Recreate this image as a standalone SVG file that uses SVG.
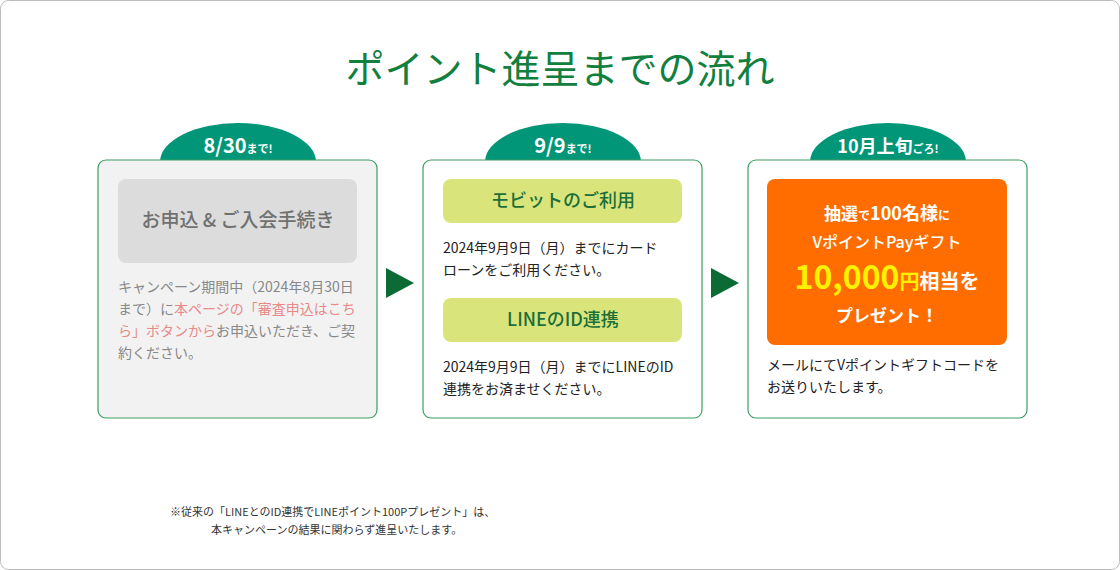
<svg xmlns="http://www.w3.org/2000/svg" width="1120" height="570" viewBox="0 0 1120 570">
<style>
text{font-family:"Noto Sans CJK JP","Noto Sans",sans-serif}
.card{stroke:#3d9e62;stroke-width:1.2}
.tab{fill:#009677}
.tt{fill:#fff;font-weight:bold;text-anchor:middle}
.body{font-size:14px;fill:#222}
.pill{fill:#d9e57a}
.pt{font-size:18px;fill:#1c6e3a;text-anchor:middle;font-weight:500}
.arr{fill:#0c6b35}
.ot{fill:#fff;font-weight:bold;text-anchor:middle}
</style>
<rect x="0.5" y="0.5" width="1119" height="569" rx="8" fill="#fff" stroke="#bdbdbd"/>
<text x="560" y="83" font-size="39" fill="#11803f" text-anchor="middle">ポイント進呈までの流れ</text>
<g id="connectors">
<polygon class="arr" points="386,268 414,283 386,298"/>
<polygon class="arr" points="711,268 739,283 711,298"/>
</g>
<g id="step1">
<ellipse class="tab" cx="238" cy="162" rx="78" ry="39"/>
<rect class="card" x="98" y="160" width="279" height="258" rx="8" fill="#f2f2f2"/>
<text class="tt" x="238" y="153"><tspan font-size="20">8/30</tspan><tspan font-size="11">まで!</tspan></text>
<rect x="118" y="179" width="239" height="84" rx="8" fill="#dcdcdc"/>
<text x="238" y="227" font-size="19" fill="#707070" text-anchor="middle" font-weight="500">お申込 &amp; ご入会手続き</text>
<text class="body" style="fill:#888"><tspan x="118" y="292">キャンペーン期間中（2024年8月30日</tspan><tspan x="118" y="314">まで）に<tspan fill="#e88a8a">本ページの「審査申込はこち</tspan></tspan><tspan x="118" y="336"><tspan fill="#e88a8a">ら」ボタンから</tspan>お申込いただき、ご契</tspan><tspan x="118" y="358">約ください。</tspan></text>
</g>
<g id="step2">
<ellipse class="tab" cx="563" cy="162" rx="78" ry="39"/>
<rect class="card" x="423" y="160" width="279" height="258" rx="8" fill="#fff"/>
<text class="tt" x="563" y="153"><tspan font-size="20">9/9</tspan><tspan font-size="11">まで!</tspan></text>
<rect class="pill" x="443" y="179" width="239" height="44" rx="8"/>
<text class="pt" x="563" y="207">モビットのご利用</text>
<text class="body"><tspan x="443" y="253">2024年9月9日（月）までにカード</tspan><tspan x="443" y="275">ローンをご利用ください。</tspan></text>
<rect class="pill" x="443" y="298" width="239" height="44" rx="8"/>
<text class="pt" x="563" y="326">LINEのID連携</text>
<text class="body"><tspan x="443" y="372">2024年9月9日（月）までにLINEのID</tspan><tspan x="443" y="394">連携をお済ませください。</tspan></text>
</g>
<g id="step3">
<ellipse class="tab" cx="888" cy="162" rx="78" ry="39"/>
<rect class="card" x="748" y="160" width="279" height="258" rx="8" fill="#fff"/>
<text class="tt" x="888" y="153"><tspan font-size="18">10月上旬</tspan><tspan font-size="11">ごろ!</tspan></text>
<rect x="767" y="179" width="240" height="166" rx="8" fill="#ff6d00"/>
<text class="ot" x="887" y="220"><tspan font-size="17">抽選</tspan><tspan font-size="12">で</tspan><tspan font-size="18">100名様</tspan><tspan font-size="12">に</tspan></text>
<text class="ot" x="887" y="248" font-size="16" style="font-weight:500">VポイントPayギフト</text>
<text class="ot" x="887" y="289"><tspan font-size="32" fill="#fff200">10,000</tspan><tspan font-size="20" fill="#fff200">円</tspan><tspan font-size="20">相当を</tspan></text>
<text class="ot" x="887" y="322" font-size="17">プレゼント！</text>
<text class="body"><tspan x="767" y="370">メールにてVポイントギフトコードを</tspan><tspan x="767" y="392">お送りいたします。</tspan></text>
</g>
<text font-size="11" fill="#333"><tspan x="170" y="516">※従来の「LINEとのID連携でLINEポイント100Pプレゼント」は、</tspan><tspan x="211" y="534">本キャンペーンの結果に関わらず進呈いたします。</tspan></text>
</svg>
